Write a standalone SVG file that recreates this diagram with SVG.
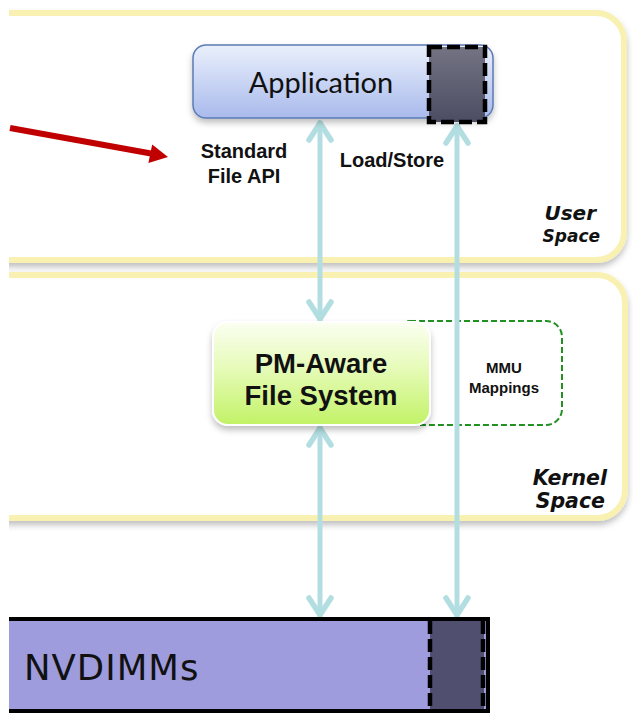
<svg xmlns="http://www.w3.org/2000/svg" width="633" height="713" viewBox="0 0 633 713">
  <style>
    .space { fill: #ffffff; stroke: #f8f1b2; stroke-width: 6; }
    .label { font-family: "Liberation Sans", Arial, sans-serif; font-weight: bold; fill: #111111; text-anchor: middle; }
    .region { font-family: "DejaVu Sans", Verdana, sans-serif; font-weight: bold; font-style: italic; fill: #111111; text-anchor: end; }
    .bus { stroke: #b3dee1; stroke-width: 5; fill: none; }
    .dash { fill: none; stroke: #000000; stroke-width: 4.5; stroke-dasharray: 13 5; }
  </style>
  <defs>
    <clipPath id="page">
      <rect x="9" y="0" width="624" height="713"/>
    </clipPath>
    <filter id="shadow" x="-10%" y="-10%" width="120%" height="130%">
      <feDropShadow dx="0" dy="4" stdDeviation="3" flood-color="#000000" flood-opacity="0.25"/>
    </filter>
    <linearGradient id="appFill" x1="0" y1="0" x2="0" y2="1">
      <stop offset="0" stop-color="#eaf0fb"/>
      <stop offset="1" stop-color="#a9baec"/>
    </linearGradient>
    <linearGradient id="darkFill" x1="0" y1="0" x2="0" y2="1">
      <stop offset="0" stop-color="#737383"/>
      <stop offset="1" stop-color="#4c4d63"/>
    </linearGradient>
    <linearGradient id="fsFill" x1="0" y1="0" x2="0" y2="1">
      <stop offset="0" stop-color="#fbfff2"/>
      <stop offset="0.45" stop-color="#e6fbb8"/>
      <stop offset="1" stop-color="#c2f266"/>
    </linearGradient>
    <marker id="chevron" viewBox="-24 -15 30 30" refX="0" refY="0" markerWidth="30" markerHeight="30" markerUnits="userSpaceOnUse" orient="auto-start-reverse" overflow="visible">
      <path d="M -19 -11 L -2 0 L -19 11" fill="none" stroke="#b3dee1" stroke-width="5.5" stroke-linecap="round" stroke-linejoin="round"/>
    </marker>
  </defs>

  <!-- privilege regions -->
  <g id="user-space" clip-path="url(#page)">
    <rect class="space" x="-40" y="13" width="664" height="247" rx="28" filter="url(#shadow)"/>
    <text class="region" x="596" y="220" font-size="20">User</text>
    <text class="region" x="600" y="242" font-size="17">Space</text>
  </g>
  <g id="kernel-space" clip-path="url(#page)">
    <rect class="space" x="-40" y="275" width="665" height="243" rx="28" filter="url(#shadow)"/>
    <text class="region" x="607" y="485" font-size="20.5">Kernel</text>
    <text class="region" x="605" y="508" font-size="20.5">Space</text>
  </g>

  <!-- page-table mappings set up by the file system -->
  <g id="mmu-mappings">
    <rect x="394" y="321" width="168" height="104" rx="16" fill="none" stroke="#239023" stroke-width="2" stroke-dasharray="6 3"/>
    <text class="label" x="504" y="373" font-size="15">MMU</text>
    <text class="label" x="504" y="393" font-size="15">Mappings</text>
  </g>

  <!-- data paths -->
  <g id="connectors">
    <line class="bus" x1="320" y1="121" x2="320" y2="321" marker-start="url(#chevron)" marker-end="url(#chevron)"/>
    <line class="bus" x1="320" y1="426" x2="320" y2="617" marker-start="url(#chevron)" marker-end="url(#chevron)"/>
    <line class="bus" x1="457" y1="124" x2="457" y2="617" marker-start="url(#chevron)" marker-end="url(#chevron)"/>
    <line x1="10" y1="128" x2="151" y2="153.5" stroke="#c00000" stroke-width="6"/>
    <polygon points="168,157 148.4,163 152.2,144.5" fill="#c00000"/>
  </g>

  <g id="file-system">
    <rect x="213" y="322" width="217" height="103" rx="15" fill="url(#fsFill)" stroke="#ffffff" stroke-width="2" filter="url(#shadow)"/>
    <text class="label" x="321" y="373" font-size="27.5">PM-Aware</text>
    <text class="label" x="321" y="405" font-size="27.5">File System</text>
  </g>

  <g id="application">
    <rect x="193" y="45" width="300" height="73" rx="13" fill="url(#appFill)" stroke="#5b7bb5" stroke-width="1.5" filter="url(#shadow)"/>
    <text x="321" y="93" font-family="Lato, 'Open Sans', sans-serif" font-size="29" fill="#111111" text-anchor="middle">Application</text>
    <rect x="429" y="47" width="56" height="75" fill="url(#darkFill)"/>
    <rect class="dash" x="429" y="47" width="56" height="75"/>
  </g>

  <g id="api-labels">
    <text class="label" x="244" y="158" font-size="20">Standard</text>
    <text class="label" x="244" y="183" font-size="20">File API</text>
    <text class="label" x="392" y="167" font-size="20">Load/Store</text>
  </g>

  <g id="nvdimms" clip-path="url(#page)">
    <rect x="-30" y="619" width="518" height="92" fill="#9e9cdc" stroke="#000000" stroke-width="4"/>
    <rect x="430" y="621" width="54" height="88" fill="#514f70"/>
    <line class="dash" x1="430" y1="621" x2="430" y2="709"/>
    <line class="dash" x1="483" y1="621" x2="483" y2="709"/>
    <text x="24" y="680" font-family="'DejaVu Sans', Verdana, sans-serif" font-size="35.5" letter-spacing="1" fill="#111111">NVDIMMs</text>
  </g>
</svg>
